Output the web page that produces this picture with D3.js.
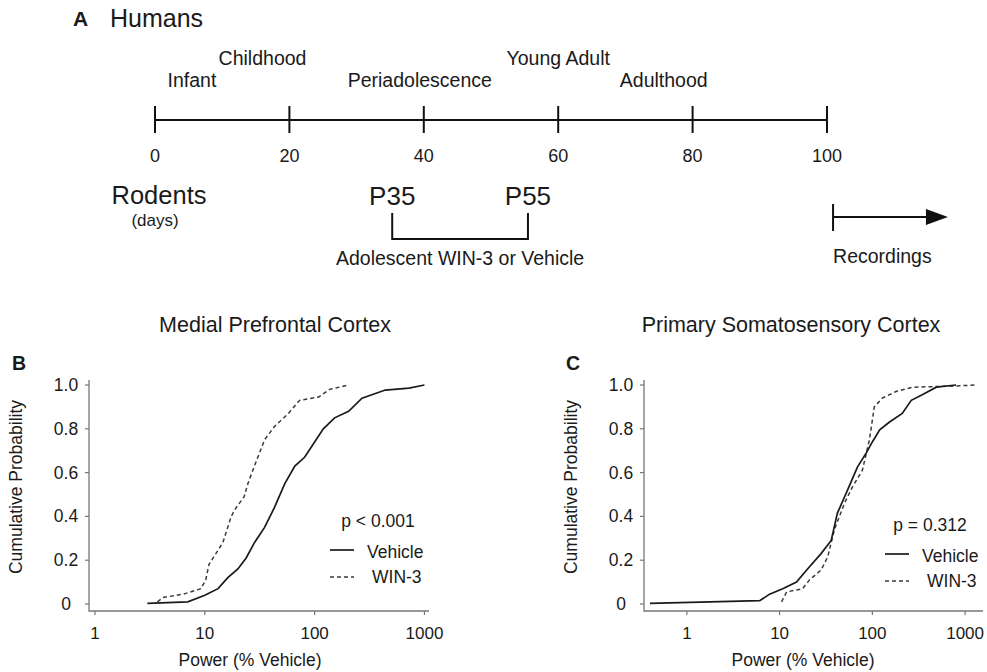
<!DOCTYPE html>
<meta charset="utf-8">
<head>
    <title>Adolescent WIN-3 figure</title>
    <script src="https://d3js.org/d3.v7.min.js"></script>
</head>
<style type="text/css">
body{
    margin: 0;
    background: #FFFFFF;
}
svg text{
    font-family: "Liberation Sans", Arial, Helvetica, sans-serif;
    fill: #1a1a1a;
}
</style>
<body>
    <svg id="fig" width="987" height="672"></svg>

    <script type="text/javascript">
        // timeline (panel A)
        var ageTicks = [0, 20, 40, 60, 80, 100];
        var stageNames = ["Infant", "Childhood", "Periadolescence", "Young Adult", "Adulthood"];
        var stageCenters = [5.5, 16, 39.4, 60, 75.7];
        var stageRows = [1, 0, 1, 0, 1];
        var treatStart = 35.3, treatEnd = 55.5;
        var recordStart = 100.9, recordEnd = 118;

        // cumulative curves: [power (% vehicle), cumulative probability]
        var pfcVehicle = [[3.0,0.003],[7.0,0.01],[10,0.04],[13.2,0.07],[16.2,0.12],[20,0.16],[23.8,0.21],[28.3,0.28],
            [35,0.35],[43,0.44],[53.5,0.55],[66,0.63],[81,0.67],[100,0.74],[120,0.80],[152,0.85],[204,0.88],
            [270,0.94],[440,0.977],[724,0.986],[1000,1.0]];
        var pfcWin = [[3.7,0.01],[4.2,0.03],[6.4,0.045],[9.2,0.07],[10.2,0.11],[10.9,0.18],[12.6,0.23],[14.6,0.28],
            [17.4,0.40],[19.3,0.44],[22.8,0.49],[24.7,0.55],[28.3,0.63],[35,0.75],[43,0.81],[57.6,0.87],
            [73,0.93],[109,0.945],[137,0.98],[204,1.0]];
        var s1Vehicle = [[0.40,0.003],[6.1,0.015],[7.8,0.045],[10.8,0.07],[15.2,0.10],[21,0.17],[28,0.23],[36,0.29],
            [42,0.415],[54,0.52],[69,0.625],[86,0.69],[100,0.74],[120,0.795],[152,0.83],[210,0.87],[263,0.93],
            [345,0.955],[490,0.99],[800,1.0]];
        var s1Win = [[10.5,0.01],[11.9,0.055],[17.7,0.07],[21,0.11],[28,0.155],[33,0.215],[39,0.34],[50,0.46],
            [61,0.535],[78,0.61],[93,0.75],[105,0.90],[128,0.94],[180,0.97],[270,0.99],[720,0.995],[1350,1.0]];

        var probTicks = [0, 0.2, 0.4, 0.6, 0.8, 1.0];
        var powerTicks = [1, 10, 100, 1000];

        var svg = d3.select("#fig");

//PANEL A ----------------------------------------------------------------------------
        var age = d3.scaleLinear().domain([0, 100]).range([155, 827]);
        var lineY = 120;

        svg.append("text").attr("x", 73).attr("y", 26)
            .style("font-size", "21px").style("font-weight", "bold").text("A");
        svg.append("text").attr("x", 110).attr("y", 27)
            .style("font-size", "25px").text("Humans");

        svg.append("line")
            .attr("x1", age(0)).attr("x2", age(100))
            .attr("y1", lineY).attr("y2", lineY)
            .attr("stroke", "#111").attr("stroke-width", 2);

        svg.selectAll(".ageTick").data(ageTicks).enter().append("line")
            .attr("class", "ageTick")
            .attr("x1", function(d) { return age(d); })
            .attr("x2", function(d) { return age(d); })
            .attr("y1", 106).attr("y2", 133)
            .attr("stroke", "#111").attr("stroke-width", 2);

        svg.selectAll(".ageLabel").data(ageTicks).enter().append("text")
            .attr("class", "ageLabel")
            .attr("x", function(d) { return age(d); })
            .attr("y", 162)
            .attr("text-anchor", "middle")
            .style("font-size", "18px")
            .text(function(d) { return d; });

        svg.selectAll(".stage").data(stageNames).enter().append("text")
            .attr("class", "stage")
            .attr("x", function(d, i) { return age(stageCenters[i]); })
            .attr("y", function(d, i) { return stageRows[i] ? 87 : 65; })
            .attr("text-anchor", "middle")
            .style("font-size", "19.5px")
            .text(function(d) { return d; });

        svg.append("text").attr("x", 159).attr("y", 204).attr("text-anchor", "middle")
            .style("font-size", "25.5px").text("Rodents");
        svg.append("text").attr("x", 155).attr("y", 226).attr("text-anchor", "middle")
            .style("font-size", "17px").text("(days)");

        svg.append("text").attr("x", age(treatStart)).attr("y", 205).attr("text-anchor", "middle")
            .style("font-size", "26px").text("P35");
        svg.append("text").attr("x", age(treatEnd)).attr("y", 205).attr("text-anchor", "middle")
            .style("font-size", "26px").text("P55");

        svg.append("path")
            .attr("d", "M" + age(treatStart) + ",213V239H" + age(treatEnd) + "V213")
            .attr("fill", "none").attr("stroke", "#111").attr("stroke-width", 2);
        svg.append("text").attr("x", (age(treatStart) + age(treatEnd)) / 2).attr("y", 265)
            .attr("text-anchor", "middle").style("font-size", "19.5px")
            .text("Adolescent WIN-3 or Vehicle");

        var recX = age(recordStart), recEnd = age(recordEnd);
        svg.append("line").attr("x1", recX).attr("x2", recX).attr("y1", 204).attr("y2", 231)
            .attr("stroke", "#111").attr("stroke-width", 2);
        svg.append("line").attr("x1", recX).attr("x2", recEnd - 18).attr("y1", 217).attr("y2", 217)
            .attr("stroke", "#111").attr("stroke-width", 2);
        svg.append("path")
            .attr("d", "M" + (recEnd - 22) + ",209L" + recEnd + ",217L" + (recEnd - 22) + ",225Z")
            .attr("fill", "#111");
        svg.append("text").attr("x", recX).attr("y", 263)
            .style("font-size", "19.5px").text("Recordings");

//PANELS B, C ----------------------------------------------------------------------------
        function drawPanel(opt) {
            var x = d3.scaleLog().domain(opt.xDomain).range([opt.left, opt.right]);
            var y = d3.scaleLinear().domain([0, 1]).range([604, 385]);
            var g = svg.append("g");
            var axisColor = "#777";

            g.append("text").attr("x", opt.titleX).attr("y", 332).attr("text-anchor", "middle")
                .style("font-size", "21.5px").text(opt.title);
            g.append("text").attr("x", opt.letterX).attr("y", 370)
                .style("font-size", "19.5px").style("font-weight", "bold").text(opt.letter);

            // axes
            g.append("path")
                .attr("d", "M" + opt.left + ",380V611H" + opt.right)
                .attr("fill", "none").attr("stroke", axisColor).attr("stroke-width", 1.3);

            g.selectAll(".yt").data(probTicks).enter().append("line")
                .attr("x1", opt.left - 4).attr("x2", opt.left)
                .attr("y1", function(d) { return y(d); })
                .attr("y2", function(d) { return y(d); })
                .attr("stroke", axisColor).attr("stroke-width", 1.2);
            g.selectAll(".yl").data(probTicks).enter().append("text")
                .attr("x", opt.left - 23)
                .attr("y", function(d) { return y(d) + 6; })
                .attr("text-anchor", "middle")
                .style("font-size", "17.5px")
                .text(function(d) { return d === 0 ? "0" : d.toFixed(1); });

            g.selectAll(".xt").data(powerTicks).enter().append("line")
                .attr("x1", function(d) { return x(d); })
                .attr("x2", function(d) { return x(d); })
                .attr("y1", 611).attr("y2", 615)
                .attr("stroke", axisColor).attr("stroke-width", 1.2);
            g.selectAll(".xl").data(powerTicks).enter().append("text")
                .attr("x", function(d) { return x(d); })
                .attr("y", 639)
                .attr("text-anchor", "middle")
                .style("font-size", "17px")
                .text(function(d) { return d; });

            g.append("text").attr("x", opt.xLabelX).attr("y", 666).attr("text-anchor", "middle")
                .style("font-size", "17.5px").text("Power (% Vehicle)");
            g.append("text")
                .attr("transform", "translate(" + (opt.left - 67) + ",487) rotate(-90)")
                .attr("text-anchor", "middle")
                .style("font-size", "17.5px").text("Cumulative Probability");

            var line = d3.line()
                .x(function(d) { return x(d[0]); })
                .y(function(d) { return y(d[1]); });

            g.append("path").datum(opt.win).attr("d", line)
                .attr("fill", "none").attr("stroke", "#3a3a3a").attr("stroke-width", 1.5)
                .attr("stroke-dasharray", "4,3");
            g.append("path").datum(opt.vehicle).attr("d", line)
                .attr("fill", "none").attr("stroke", "#1a1a1a").attr("stroke-width", 1.7);

            // legend
            var lx = opt.legendX;
            g.append("text").attr("x", opt.pX).attr("y", opt.pY).attr("text-anchor", "middle")
                .style("font-size", "17.5px").text(opt.pText);
            g.append("line").attr("x1", lx).attr("x2", lx + 24)
                .attr("y1", opt.pY + 23).attr("y2", opt.pY + 23)
                .attr("stroke", "#1a1a1a").attr("stroke-width", 1.7);
            g.append("text").attr("x", lx + 37).attr("y", opt.pY + 31)
                .style("font-size", "17.5px").text("Vehicle");
            g.append("line").attr("x1", lx).attr("x2", lx + 24)
                .attr("y1", opt.pY + 50).attr("y2", opt.pY + 50)
                .attr("stroke", "#3a3a3a").attr("stroke-width", 1.5)
                .attr("stroke-dasharray", "4,3");
            g.append("text").attr("x", lx + 42).attr("y", opt.pY + 56)
                .style("font-size", "17.5px").text("WIN-3");
        }

        drawPanel({
            title: "Medial Prefrontal Cortex", titleX: 275, letter: "B", letterX: 12,
            xDomain: [0.882, 1100], left: 89, right: 429,
            vehicle: pfcVehicle, win: pfcWin, xLabelX: 250,
            pText: "p < 0.001", pX: 378, pY: 527, legendX: 330
        });
        drawPanel({
            title: "Primary Somatosensory Cortex", titleX: 791, letter: "C", letterX: 566,
            xDomain: [0.345, 1560], left: 644, right: 983,
            vehicle: s1Vehicle, win: s1Win, xLabelX: 803,
            pText: "p = 0.312", pX: 930, pY: 531, legendX: 885
        });
    </script>
</body>
